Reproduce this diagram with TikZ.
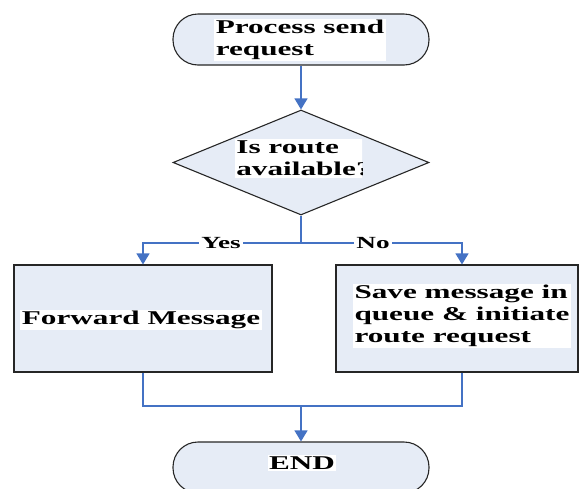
\documentclass[tikz,border=0pt]{standalone}
\usepackage{fontspec}
\setmainfont{Liberation Serif}
\usetikzlibrary{shapes.geometric,arrows.meta}
\definecolor{boxfill}{RGB}{230,236,246}
\definecolor{linkblue}{RGB}{68,114,196}
\newcommand{\hs}[1]{\scalebox{1.6}[1]{#1}}
\begin{document}
\begin{tikzpicture}[x=1pt,y=-1pt,
  shapebox/.style={draw=black!85,line width=1.1pt,fill=boxfill,inner sep=0pt},
  term/.style={shapebox,rectangle,rounded corners=25pt,minimum width=256pt,minimum height=51pt},
  decide/.style={shapebox,diamond,minimum width=256pt,minimum height=105pt},
  procbox/.style={shapebox,rectangle,minimum height=107pt},
  txt/.style={fill=white,inner sep=1.5pt,align=left,font=\bfseries\fontsize{19.5}{22}\selectfont},
  lbl/.style={fill=white,inner sep=2pt,font=\bfseries\fontsize{17}{19}\selectfont},
  conn/.style={draw=linkblue,line width=1.1pt,-{Triangle[width=13pt,length=11pt]}},
  link/.style={draw=linkblue,line width=1.1pt}]
\useasboundingbox (0,0) rectangle (579,488);
\node[term] (start) at (301,39.5) {};
\node[decide] (dia) at (301,162.5) {};
\node[procbox,minimum width=258pt] (fwd) at (143,318.5) {};
\node[procbox,minimum width=242pt] (save) at (457,318.5) {};
\node[term] (end) at (301,467.5) {};
\coordinate (split) at (301,243);
\coordinate (join) at (301,406);
% texts
\node[txt] (t1) at (300,40) {\hs{Process send}\\\hs{request}};
\begin{scope}
\clip (230,130) rectangle (362,185);
\node[txt] (t2) at (304,158.5) {\hs{Is route}\\\hs{available?}};
\end{scope}
\node[txt] (t3) at (141,320) {\hs{Forward Message}};
\node[txt] (t4) at (462,316) {\hs{Save message in}\\\hs{queue \& initiate}\\\hs{route request}};
\node[txt] (t5) at (302,463) {\hs{END}};
% connectors
\draw[conn] (start) -- (dia);
\draw[link] (dia.south) -- (split);
\draw[conn] (split) -| (fwd.north);
\draw[conn] (split) -| ([xshift=5pt]save.north);
\node[lbl] (yes) at (221,243) {\hs{Yes}};
\node[lbl] (no) at (373,243) {\hs{No}};
\draw[link] (fwd.south) |- (join);
\draw[link] ([xshift=5pt]save.south) |- (join);
\draw[conn] (join) -- (end);
\end{tikzpicture}
\end{document}
